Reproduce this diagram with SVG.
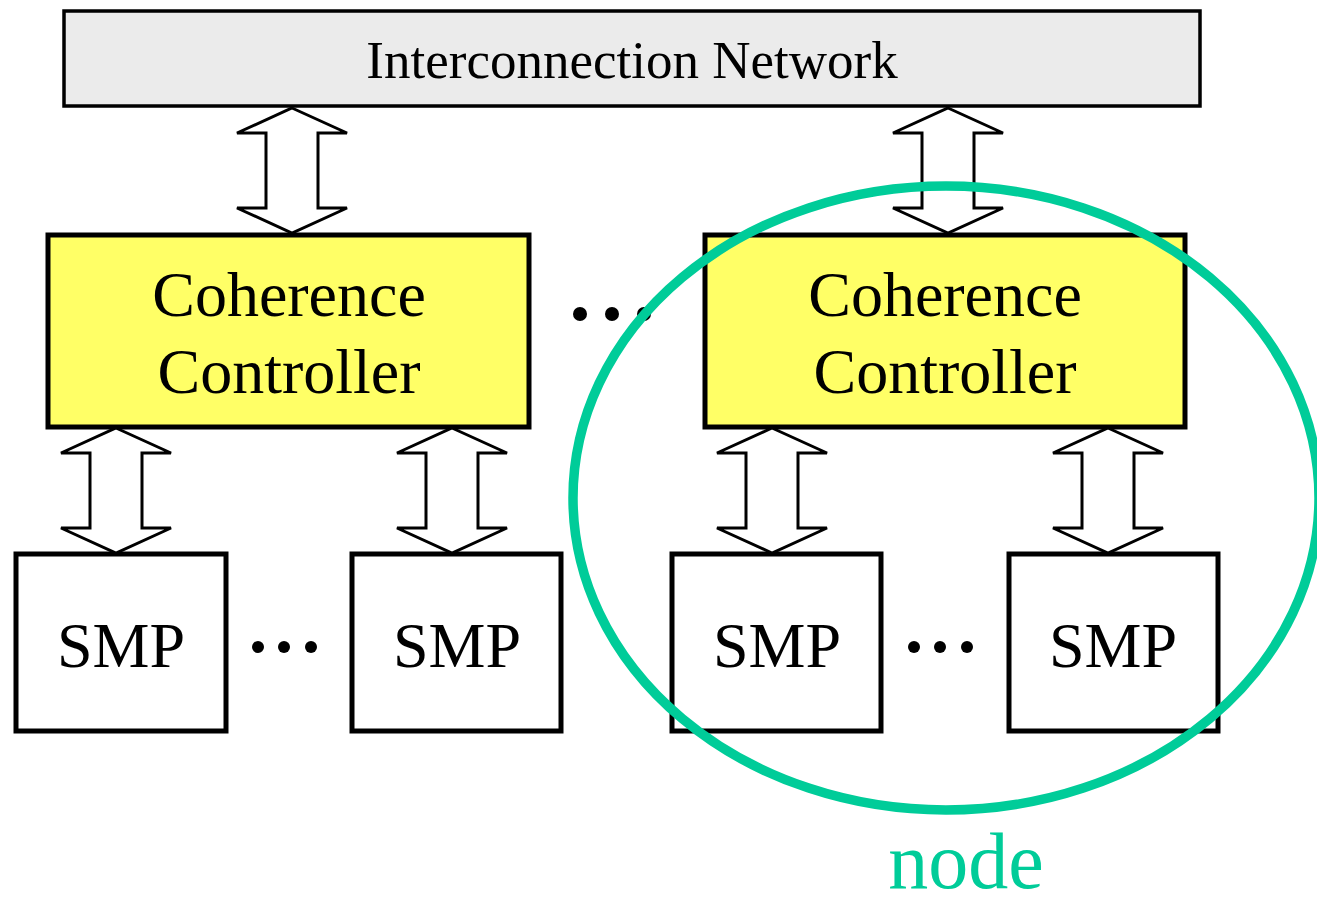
<svg xmlns="http://www.w3.org/2000/svg" width="1317" height="907" viewBox="0 0 1317 907">
  <style>
    .txt { font-family: "Liberation Serif", "Times New Roman", serif; fill: #000; text-anchor: middle; }
    .box { fill: #fff; stroke: #000; stroke-width: 5; }
    .cc { fill: #ffff66; stroke: #000; stroke-width: 5; }
    .net { fill: #ebebeb; stroke: #000; stroke-width: 3.5; }
    .dbl { fill: #fff; stroke: #000; stroke-width: 3; stroke-linejoin: miter; }
    .dot { fill: #000; }
  </style>
  <defs>
    <!-- double-headed block arrow, 125 px tall, centred on x=0, top tip at y=0 -->
    <path id="dblArrow" d="M0,0 L55,25 L26,25 L26,100 L55,100 L0,125 L-55,100 L-26,100 L-26,25 L-55,25 Z"/>
  </defs>

  <g id="network">
    <rect class="net" x="64" y="11" width="1136" height="95"/>
    <text class="txt" x="632" y="78" font-size="53">Interconnection Network</text>
  </g>

  <g id="cc-left">
    <rect class="cc" x="48" y="235" width="481" height="192"/>
    <text class="txt" x="289" y="316" font-size="64">Coherence</text>
    <text class="txt" x="289" y="393" font-size="64">Controller</text>
  </g>

  <g id="cc-right">
    <rect class="cc" x="705" y="235" width="480" height="192"/>
    <text class="txt" x="945" y="316" font-size="64">Coherence</text>
    <text class="txt" x="945" y="393" font-size="64">Controller</text>
  </g>

  <g id="smp-1">
    <rect class="box" x="16" y="554" width="210" height="177"/>
    <text class="txt" x="121" y="667" font-size="64">SMP</text>
  </g>
  <g id="smp-2">
    <rect class="box" x="352" y="554" width="209" height="177"/>
    <text class="txt" x="457" y="667" font-size="64">SMP</text>
  </g>
  <g id="smp-3">
    <rect class="box" x="672" y="554" width="209" height="177"/>
    <text class="txt" x="777" y="667" font-size="64">SMP</text>
  </g>
  <g id="smp-4">
    <rect class="box" x="1009" y="554" width="209" height="177"/>
    <text class="txt" x="1113" y="667" font-size="64">SMP</text>
  </g>

  <g id="ellipsis">
    <circle class="dot" cx="580" cy="314" r="7"/>
    <circle class="dot" cx="612" cy="314" r="7"/>
    <circle class="dot" cx="644" cy="314" r="7"/>
    <circle class="dot" cx="258" cy="647" r="6"/>
    <circle class="dot" cx="284" cy="647" r="6"/>
    <circle class="dot" cx="311" cy="647" r="6"/>
    <circle class="dot" cx="914" cy="647" r="6"/>
    <circle class="dot" cx="940" cy="647" r="6"/>
    <circle class="dot" cx="967" cy="647" r="6"/>
  </g>

  <g id="connectors">
    <use href="#dblArrow" class="dbl" x="292" y="108"/>
    <use href="#dblArrow" class="dbl" x="948" y="108"/>
    <use href="#dblArrow" class="dbl" x="116" y="428"/>
    <use href="#dblArrow" class="dbl" x="452" y="428"/>
    <use href="#dblArrow" class="dbl" x="772" y="428"/>
    <use href="#dblArrow" class="dbl" x="1108" y="428"/>
  </g>

  <g id="node-outline">
    <ellipse cx="946" cy="498" rx="373" ry="312" fill="none" stroke="#00cc99" stroke-width="9.5"/>
    <text x="966" y="888" font-size="80" font-family="'Liberation Serif', 'Times New Roman', serif" fill="#00cc99" text-anchor="middle">node</text>
  </g>
</svg>
